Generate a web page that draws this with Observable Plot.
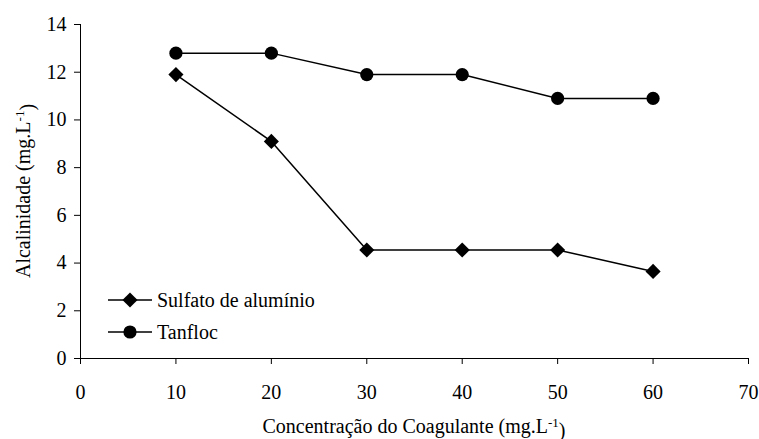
<!DOCTYPE html>
<html>
<head>
<meta charset="utf-8">
<script src="https://cdn.jsdelivr.net/npm/d3@7"></script>
<script src="https://cdn.jsdelivr.net/npm/@observablehq/plot@0.6"></script>
<style>
  html, body { margin: 0; padding: 0; background: #fff; }
  #chart { width: 759px; height: 439px; }
  #chart svg, #chart svg text { font-family: "Liberation Serif", "Times New Roman", serif !important; }
</style>
</head>
<body>
<div id="chart"></div>
<script>
const concentracao = [10, 20, 30, 40, 50, 60];
const sulfato = [11.9, 9.1, 4.55, 4.55, 4.55, 3.65];
const tanfloc = [12.8, 12.8, 11.9, 11.9, 10.9, 10.9];
const seriesNames = ["Sulfato de alumínio", "Tanfloc"];
const xTicks = [0, 10, 20, 30, 40, 50, 60, 70];
const yTicks = [0, 2, 4, 6, 8, 10, 12, 14];

const dataS = concentracao.map((c, i) => ({x: c, y: sulfato[i]}));
const dataT = concentracao.map((c, i) => ({x: c, y: tanfloc[i]}));

const W = 759, H = 439;
const mL = 80, mR = 11, mT = 24, mB = 81;
const FS = "20px";

const plot = Plot.plot({
  width: W, height: H,
  marginLeft: mL, marginRight: mR, marginTop: mT, marginBottom: mB,
  style: {fontSize: FS, color: "#000", background: "#fff", overflow: "visible"},
  x: {domain: [0, 70], ticks: xTicks},
  y: {domain: [0, 14], ticks: yTicks},
  marks: [
    Plot.ruleX([0], {stroke: "#000", strokeWidth: 1}),
    Plot.ruleY([0], {stroke: "#000", strokeWidth: 1}),
    Plot.axisX({ticks: xTicks, tickSize: 6, tickPadding: 20, label: null, tickFormat: d => d, stroke: "#000", strokeOpacity: 1}),
    Plot.axisY({ticks: yTicks, tickSize: 6, tickPadding: 8, label: null, tickFormat: d => d, stroke: "#000", strokeOpacity: 1}),
    Plot.line(dataS, {x: "x", y: "y", stroke: "#000", strokeWidth: 1.5}),
    Plot.line(dataT, {x: "x", y: "y", stroke: "#000", strokeWidth: 1.5}),
    Plot.dot(dataS, {x: "x", y: "y", symbol: "diamond2", r: 6.8, fill: "#000", stroke: "none"}),
    Plot.dot(dataT, {x: "x", y: "y", symbol: "circle", r: 6.6, fill: "#000", stroke: "none"})
  ]
});

document.getElementById("chart").appendChild(plot);
const svg = d3.select(plot);

// Axis titles with superscripts
const xt = svg.append("text")
  .attr("x", (mL + W - mR) / 2).attr("y", 433)
  .attr("text-anchor", "middle")
  .style("font-size", FS).attr("fill", "#000");
xt.append("tspan").text("Concentração do Coagulante (mg.L");
xt.append("tspan").attr("dy", "-0.5em").style("font-size", "13px").text("-1");
xt.append("tspan").attr("dy", "0.5em").text(")");

const yt = svg.append("text")
  .attr("transform", `translate(30,${(mT + H - mB) / 2}) rotate(-90)`)
  .attr("text-anchor", "middle")
  .style("font-size", FS).attr("fill", "#000");
yt.append("tspan").text("Alcalinidade (mg.L");
yt.append("tspan").attr("dy", "-0.5em").style("font-size", "13px").text("-1");
yt.append("tspan").attr("dy", "0.5em").text(")");

// Legend
const legendSymbols = [d3.symbolDiamond2, d3.symbolCircle];
const legendSizes = [Math.PI * 6.8 * 6.8, Math.PI * 6.6 * 6.6];
const lg = svg.append("g").attr("text-anchor", "start");
seriesNames.forEach((name, i) => {
  const cy = 300 + i * 32;
  lg.append("line").attr("x1", 108).attr("x2", 152).attr("y1", cy).attr("y2", cy)
    .attr("stroke", "#000").attr("stroke-width", 1.5);
  lg.append("path").attr("d", d3.symbol(legendSymbols[i], legendSizes[i])())
    .attr("transform", `translate(130,${cy})`).attr("fill", "#000");
  lg.append("text").attr("x", 157).attr("y", cy).attr("dy", "0.35em")
    .attr("text-anchor", "start")
    .style("font-size", FS).attr("fill", "#000").text(name);
});
</script>
</body>
</html>
